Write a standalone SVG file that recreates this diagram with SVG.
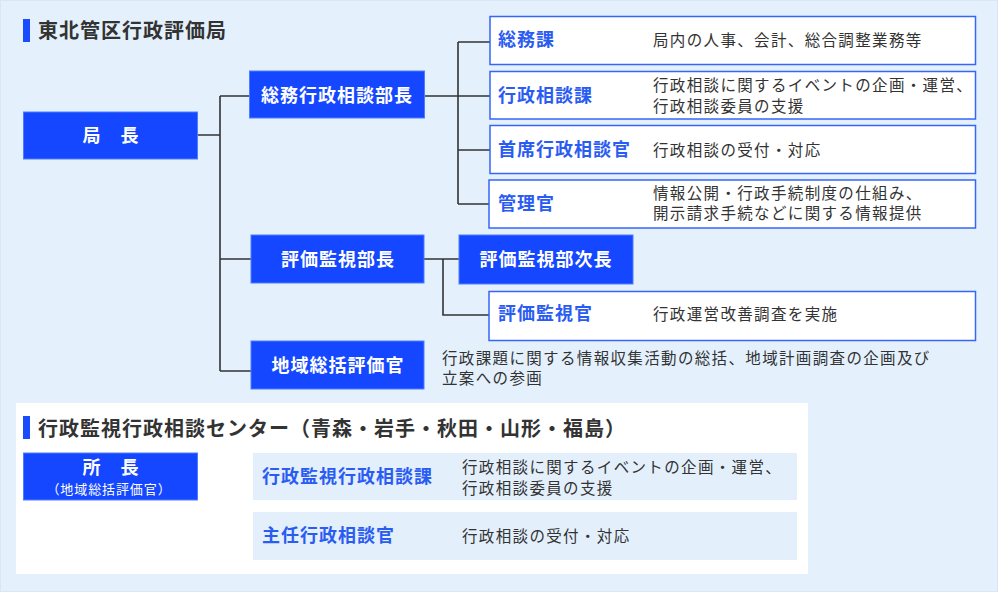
<svg xmlns="http://www.w3.org/2000/svg" width="998" height="592" viewBox="0 0 998 592">
  <style>
    text { font-family: "Noto Sans CJK JP", "Noto Sans CJK SC", sans-serif; }
    .title { font-size: 20px; font-weight: 700; fill: #333; letter-spacing: 1px; }
    .bar { fill: #1a4cff; }
    .boss { fill: #1447ff; stroke: #4f7dff; stroke-width: 1; }
    .boss-t { font-size: 18px; font-weight: 700; fill: #fff; letter-spacing: 1px; text-anchor: middle; }
    .sub-t { font-size: 13px; fill: #fff; letter-spacing: 0.9px; text-anchor: middle; }
    .unit { fill: #fff; stroke: #3566f7; stroke-width: 1.5; }
    .row { fill: #e3f0fc; }
    .label { font-size: 18px; font-weight: 700; fill: #2a5cf2; letter-spacing: 1px; }
    .desc { font-size: 15.5px; fill: #333; letter-spacing: 1.35px; }
    .wire { fill: none; stroke: #333; stroke-width: 1.6; }
  </style>

  <!-- backdrop -->
  <rect x="0.5" y="0.5" width="997" height="591" fill="#e4f1fd" stroke="#d8e7f5"/>

  <!-- 東北管区行政評価局 -->
  <g id="heading-main">
    <rect class="bar" x="23" y="19" width="7" height="23"/>
    <text class="title" x="38" y="38">東北管区行政評価局</text>
  </g>

  <g id="connectors">
    <path class="wire" d="M197,135 H220 M220,96 V371 M220,96 H249 M220,259 H251 M220,371 H251"/>
    <path class="wire" d="M424,96 H458 M458,42 V204 M458,42 H490 M458,96 H490 M458,150 H490 M458,204 H489"/>
    <path class="wire" d="M424,259 H459 M443,259 V315 H489"/>
    <path class="wire" d="M197,477 H253 M220,477 V538 H253"/>
  </g>

  <g id="kyokucho">
    <rect class="boss" x="23.5" y="112" width="174" height="47"/>
    <text class="boss-t" x="111" y="141.5">局　長</text>
  </g>

  <g id="somu-bucho">
    <rect class="boss" x="249.5" y="71" width="175" height="47"/>
    <text class="boss-t" x="337" y="101.5">総務行政相談部長</text>
  </g>

  <g id="hyoka-bucho">
    <rect class="boss" x="251" y="235" width="173" height="48"/>
    <text class="boss-t" x="338" y="265.5">評価監視部長</text>
  </g>

  <g id="chiiki-hyokakan">
    <rect class="boss" x="251" y="341" width="173" height="48"/>
    <text class="boss-t" x="338" y="371.5">地域総括評価官</text>
    <text class="desc" x="442" y="364">行政課題に関する情報収集活動の総括、地域計画調査の企画及び</text>
    <text class="desc" x="442" y="384">立案への参画</text>
  </g>

  <g id="hyoka-jicho">
    <rect class="boss" x="459" y="235" width="174" height="49"/>
    <text class="boss-t" x="546" y="265.5">評価監視部次長</text>
  </g>

  <g id="somu-ka">
    <rect class="unit" x="490" y="16.5" width="485.5" height="48"/>
    <text class="label" x="498" y="46">総務課</text>
    <text class="desc" x="653" y="46">局内の人事、会計、総合調整業務等</text>
  </g>

  <g id="gyosei-sodan-ka">
    <rect class="unit" x="490" y="71.5" width="485.5" height="47.5"/>
    <text class="label" x="498" y="101.5">行政相談課</text>
    <text class="desc" x="653" y="90.5">行政相談に関するイベントの企画・運営、</text>
    <text class="desc" x="653" y="111.5">行政相談委員の支援</text>
  </g>

  <g id="shuseki-sodankan">
    <rect class="unit" x="490" y="125.5" width="485.5" height="48"/>
    <text class="label" x="498" y="156">首席行政相談官</text>
    <text class="desc" x="653" y="155.5">行政相談の受付・対応</text>
  </g>

  <g id="kanrikan">
    <rect class="unit" x="489" y="180" width="486.5" height="48"/>
    <text class="label" x="498" y="210">管理官</text>
    <text class="desc" x="653" y="198.5">情報公開・行政手続制度の仕組み、</text>
    <text class="desc" x="653" y="219">開示請求手続などに関する情報提供</text>
  </g>

  <g id="hyoka-kanshikan">
    <rect class="unit" x="489" y="291.5" width="486.5" height="49"/>
    <text class="label" x="498" y="320">評価監視官</text>
    <text class="desc" x="653" y="319.5">行政運営改善調査を実施</text>
  </g>

  <!-- 行政監視行政相談センター -->
  <rect x="16" y="403" width="792" height="171" fill="#fff"/>

  <g id="heading-center">
    <rect class="bar" x="23" y="416" width="7" height="23"/>
    <text class="title" x="38" y="436">行政監視行政相談センター（青森・岩手・秋田・山形・福島）</text>
  </g>

  <g id="shocho">
    <rect class="boss" x="23.5" y="453" width="174" height="47"/>
    <text class="boss-t" x="111" y="473.5">所　長</text>
    <text class="sub-t" x="109" y="494">（地域総括評価官）</text>
  </g>

  <g id="kanshi-sodan-ka">
    <rect class="row" x="253" y="453" width="544" height="47"/>
    <text class="label" x="262" y="482.5">行政監視行政相談課</text>
    <text class="desc" x="462" y="473">行政相談に関するイベントの企画・運営、</text>
    <text class="desc" x="462" y="494">行政相談委員の支援</text>
  </g>

  <g id="shunin-sodankan">
    <rect class="row" x="253" y="512" width="544" height="48"/>
    <text class="label" x="262" y="542">主任行政相談官</text>
    <text class="desc" x="462" y="542">行政相談の受付・対応</text>
  </g>
</svg>
